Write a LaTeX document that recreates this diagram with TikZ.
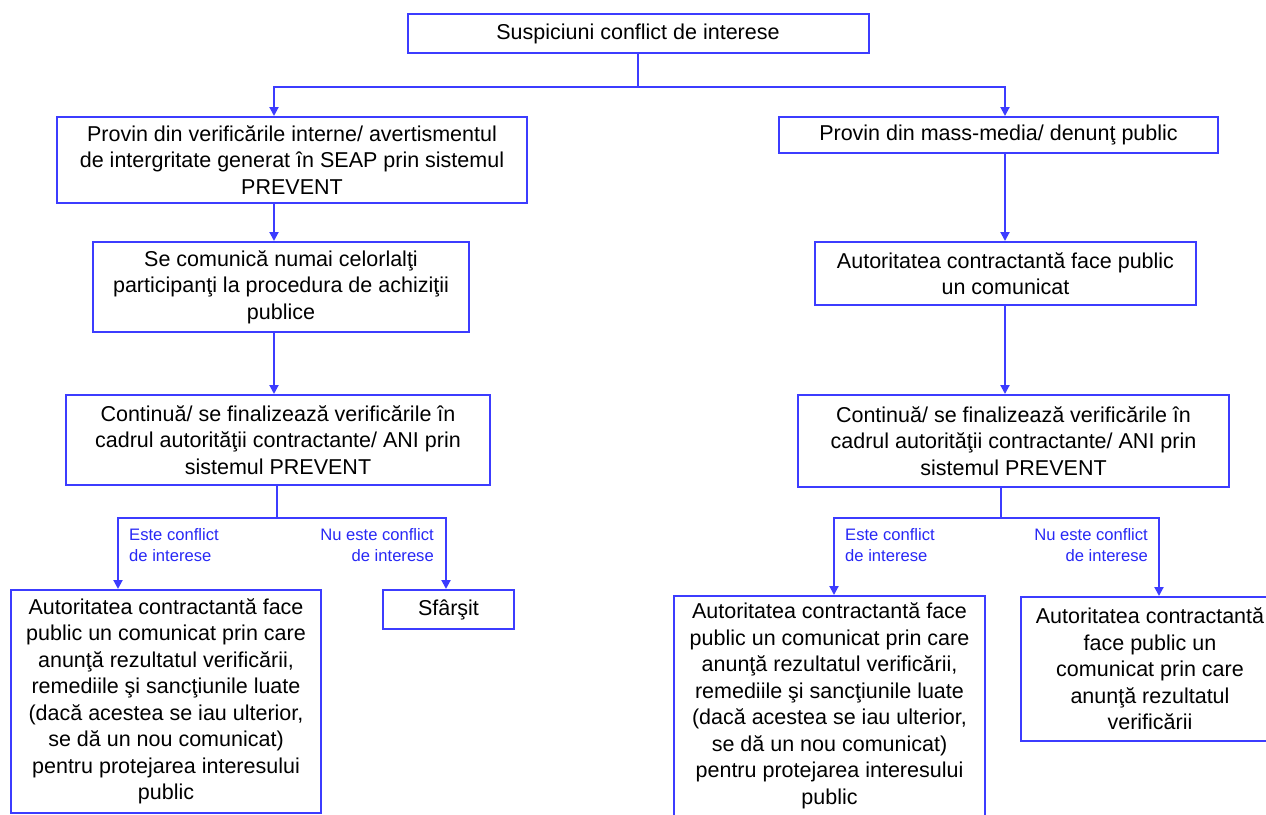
\documentclass[tikz,border=0pt]{standalone}
\usepackage{fontspec}
\setmainfont{Liberation Sans}
\usetikzlibrary{arrows.meta}
\definecolor{lnblue}{RGB}{60,60,255}
\definecolor{lbblue}{RGB}{40,40,245}
\begin{document}
\begin{tikzpicture}[x=1pt,y=-1pt,
  box/.style={draw=lnblue, line width=2pt, fill=white, align=center, inner sep=0pt,
    font=\fontsize{21.5}{26.5}\selectfont, text=black},
  conn/.style={draw=lnblue, line width=2pt},
  arr/.style={draw=lnblue, line width=2pt, -{Triangle[length=9pt,width=9pt]}},
  lbl/.style={text=lbblue, font=\fontsize{16.6}{21}\selectfont, inner sep=0pt}]

\useasboundingbox (0,0) rectangle (1266,814);

\node[box, minimum width=461pt, minimum height=39pt] (top) at (638,33.5) {Suspiciuni conflict de interese};

\node[box, minimum width=470pt, minimum height=86pt] (L1) at (292,160)
  {Provin din verificările interne/ avertismentul\\de intergritate generat în SEAP prin sistemul\\PREVENT};
\node[box, minimum width=439pt, minimum height=36pt] (R1) at (998.5,135)
  {Provin din mass-media/ denunţ public};

\node[box, minimum width=376pt, minimum height=90pt] (L2) at (281,287)
  {Se comunică numai celorlalţi\\participanţi la procedura de achiziţii\\publice};
\node[box, minimum width=381pt, minimum height=63pt] (R2) at (1005.5,273.5)
  {Autoritatea contractantă face public\\un comunicat};

\node[box, minimum width=424pt, minimum height=90pt] (L3) at (278,440)
  {Continuă/ se finalizează verificările în\\cadrul autorităţii contractante/ ANI prin\\sistemul PREVENT};
\node[box, minimum width=431pt, minimum height=92pt] (R3) at (1013.5,441)
  {Continuă/ se finalizează verificările în\\cadrul autorităţii contractante/ ANI prin\\sistemul PREVENT};

\node[box, minimum width=310pt, minimum height=223pt] (L4) at (166,701.5)
  {Autoritatea contractantă face\\public un comunicat prin care\\anunţă rezultatul verificării,\\remediile şi sancţiunile luate\\(dacă acestea se iau ulterior,\\se dă un nou comunicat)\\pentru protejarea interesului\\public};
\node[box, minimum width=131pt, minimum height=39pt] (Sf) at (448.5,609.5) {Sfârşit};

\node[box, minimum width=311pt, minimum height=220pt] (R4a) at (829.5,706)
  {Autoritatea contractantă face\\public un comunicat prin care\\anunţă rezultatul verificării,\\remediile şi sancţiunile luate\\(dacă acestea se iau ulterior,\\se dă un nou comunicat)\\pentru protejarea interesului\\public};
\node[box, minimum width=258pt, minimum height=144pt] (R4b) at (1150,669)
  {Autoritatea contractantă\\face public un\\comunicat prin care\\anunţă rezultatul\\verificării};

% connectors
\coordinate (j1) at (638,87);
\coordinate (aL) at (274,0);
\coordinate (aR) at (1005,0);
\draw[conn] (top.south) -- (j1);
\draw[arr] (j1) -| (L1.north -| aL);
\draw[arr] (j1) -| (R1.north -| aR);
\draw[arr] (L1.south -| aL) -- (L2.north -| aL);
\draw[arr] (L2.south -| aL) -- (L3.north -| aL);
\draw[arr] (R1.south -| aR) -- (R2.north -| aR);
\draw[arr] (R2.south -| aR) -- (R3.north -| aR);

\coordinate (jL) at (277,518);
\coordinate (bL1) at (118,0);
\coordinate (bL2) at (446,0);
\draw[conn] (L3.south -| jL) -- (jL);
\draw[arr] (jL) -| (L4.north -| bL1);
\draw[arr] (jL) -| (Sf.north -| bL2);

\coordinate (jR) at (1001,518);
\coordinate (bR1) at (834,0);
\coordinate (bR2) at (1159,0);
\draw[conn] (R3.south -| jR) -- (jR);
\draw[arr] (jR) -| (R4a.north -| bR1);
\draw[arr] (jR) -| (R4b.north -| bR2);

% labels
\node[lbl, anchor=north west, align=left] (le1) at (129,528) {Este conflict\\de interese};
\node[lbl, anchor=north east, align=right] (ln1) at (434,528) {Nu este conflict\\de interese};
\node[lbl, anchor=north west, align=left] (le2) at (845,528) {Este conflict\\de interese};
\node[lbl, anchor=north east, align=right] (ln2) at (1148,528) {Nu este conflict\\de interese};
\end{tikzpicture}
\end{document}
